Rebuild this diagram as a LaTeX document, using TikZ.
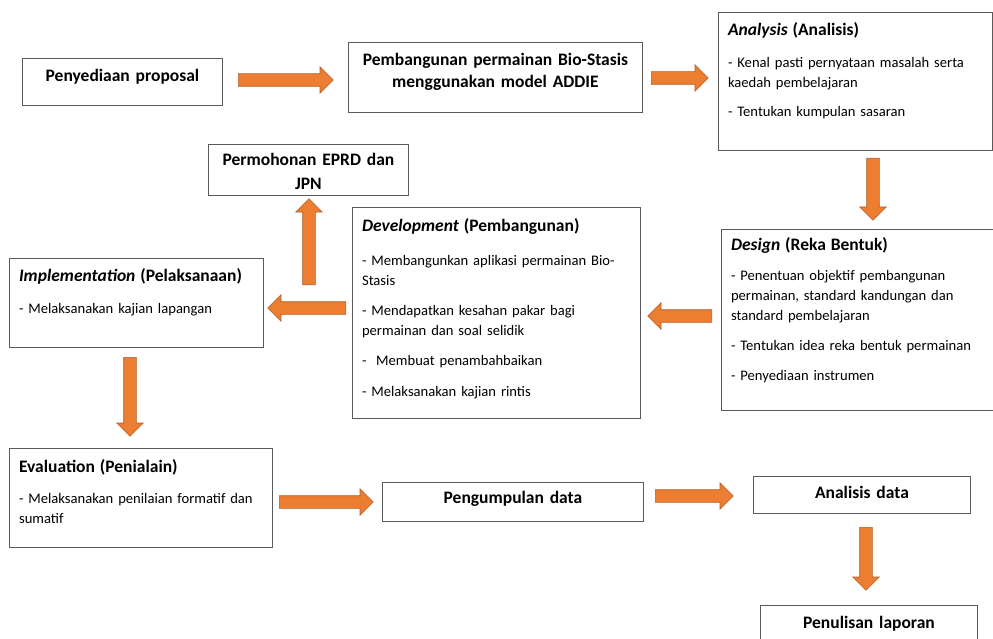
\documentclass[tikz,border=0pt]{standalone}
\usepackage{fontspec}
\setmainfont{Carlito}
\usetikzlibrary{shapes.arrows}
\definecolor{arrowfill}{HTML}{ED7D31}
\definecolor{arrowline}{HTML}{B0602A}
\definecolor{boxline}{HTML}{5A5A5A}
\newcommand{\hdfont}{\fontsize{17.5}{22}\selectfont\bfseries}
\newcommand{\txfont}{\fontsize{14.6}{20}\selectfont}
\tikzset{
  box/.style={draw=boxline, line width=0.9pt, anchor=north west, inner xsep=9.6pt,
    inner ysep=0pt, align=left, font=\txfont},
  titlebox/.style={box, align=center, font=\hdfont},
  barrow/.style={single arrow, draw=arrowline, fill=arrowfill, line width=0.6pt,
    minimum width=26pt, single arrow head extend=7pt, single arrow head indent=0pt,
    inner xsep=0pt, inner ysep=6pt, text height=0pt, text depth=0pt, anchor=tail},
}
\begin{document}
\begin{tikzpicture}[x=1pt,y=-1pt]
\useasboundingbox (0,0) rectangle (993,639);
\clip (0,0) rectangle (993,639);
%top row
\node[titlebox, text width=180.8pt, text height=23pt, text depth=24pt] (prop) at (22,58) {Penyediaan proposal};
\node[titlebox, text width=274.8pt, text height=23.5pt, text depth=46.5pt] (pemb) at (348,42)
  {Pembangunan permainan Bio-Stasis\\menggunakan model ADDIE};
\node[box, text width=254.8pt, text height=23pt, text depth=115pt] (anal) at (718,12)
  {{\hdfont\textit{Analysis} (Analisis)}\\[12pt]
   - Kenal pasti pernyataan masalah serta\\kaedah pembelajaran\\[9pt]
   - Tentukan kumpulan sasaran};
%middle row
\node[titlebox, text width=180.8pt, text height=21.5pt, text depth=29.5pt] (permo) at (208,144)
  {Permohonan EPRD dan\\[2pt]JPN};
\node[box, text width=268.8pt, text height=24pt, text depth=187pt] (dev) at (352,207)
  {{\hdfont\textit{Development} (Pembangunan)}\\[14pt]
   - Membangunkan aplikasi permainan Bio-\\Stasis\\[10pt]
   - Mendapatkan kesahan pakar bagi\\permainan dan soal selidik\\[10pt]
   -\ \ Membuat penambahbaikan\\[11pt]
   - Melaksanakan kajian rintis};
\node[box, text width=270pt, text height=21pt, text depth=160pt] (design) at (721,229)
  {{\hdfont\textit{Design} (Reka Bentuk)}\\[10pt]
   - Penentuan objektif pembangunan\\permainan, standard kandungan dan\\standard pembelajaran\\[10pt]
   - Tentukan idea reka bentuk permainan\\[10pt]
   - Penyediaan instrumen};
\node[box, text width=234.8pt, text height=23pt, text depth=66pt] (impl) at (9,258)
  {{\hdfont\textit{Implementation} (Pelaksanaan)}\\[12pt]
   - Melaksanakan kajian lapangan};
%bottom row
\node[box, text width=243.8pt, text height=24.5pt, text depth=74.5pt] (eval) at (9,448)
  {{\hdfont Evaluation (Penialain)}\\[11pt]
   - Melaksanakan penilaian formatif dan\\sumatif};
\node[titlebox, text width=241.8pt, text height=21pt, text depth=18pt] (peng) at (382,482) {Pengumpulan data};
\node[titlebox, text width=197.8pt, text height=22pt, text depth=15pt] (anadata) at (753,476) {Analisis data};
\node[titlebox, text width=197.8pt, text height=23pt, text depth=37pt] (penul) at (760,605) {Penulisan laporan};
%block arrows
\node[barrow, minimum height=95pt] (a1) at (238,80) {};
\node[barrow, minimum height=57pt] (a2) at (651,78) {};
\node[barrow, minimum height=62pt, rotate=-90] (a3) at (873,158) {};
\node[barrow, minimum height=64pt, rotate=180] (a4) at (712,316) {};
\node[barrow, minimum height=78pt, rotate=180] (a5) at (346,308) {};
\node[barrow, minimum height=86pt, rotate=90] (a6) at (309,285) {};
\node[barrow, minimum height=79pt, rotate=-90] (a7) at (130,357) {};
\node[barrow, minimum height=94pt] (a8) at (279,502) {};
\node[barrow, minimum height=78pt] (a9) at (655,496) {};
\node[barrow, minimum height=63pt, rotate=-90] (a10) at (866,527) {};
\end{tikzpicture}
\end{document}
